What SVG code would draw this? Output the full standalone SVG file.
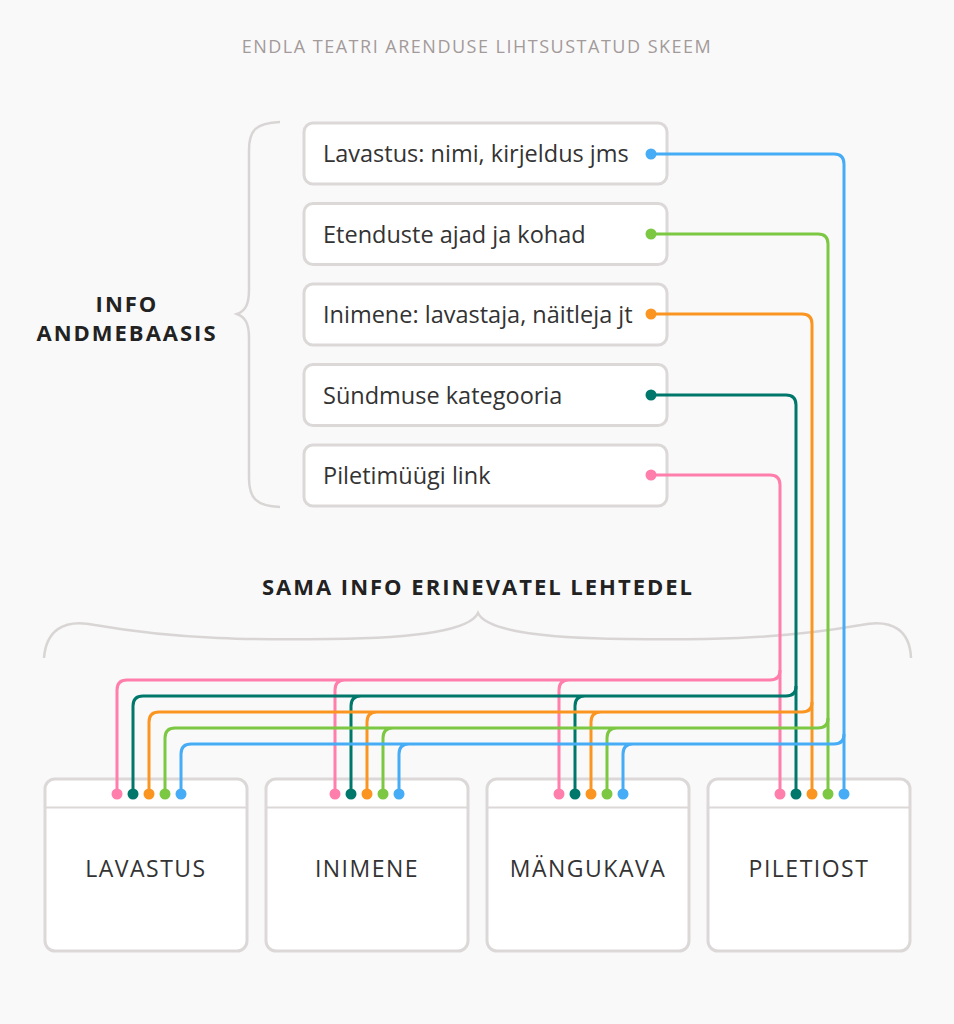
<svg xmlns="http://www.w3.org/2000/svg" width="954" height="1024" viewBox="0 0 954 1024">
<style>
.bg{fill:#f9f9f9}
.box{fill:#fff;stroke:#dcd8d8;stroke-width:3}
.sep{stroke:#dcd8d8;stroke-width:2}
.brace{fill:none;stroke:#d9d5d5;stroke-width:2.5}
.t{font-family:"Open Sans","Noto Sans",sans-serif}
.title{font-size:18px;fill:#a39a9a;letter-spacing:1.5px}
.head{font-size:22px;font-weight:700;fill:#222;letter-spacing:2px}
.item{font-size:23.5px;fill:#333}
.page{font-size:23px;fill:#333;letter-spacing:1.5px}
.ln{fill:none;stroke-width:3}
.pink{stroke:#ff7eab}.pinkf{fill:#ff7eab}
.teal{stroke:#00776b}.tealf{fill:#00776b}
.orange{stroke:#fb9521}.orangef{fill:#fb9521}
.green{stroke:#7cc843}.greenf{fill:#7cc843}
.blue{stroke:#45acf5}.bluef{fill:#45acf5}
</style>
<rect class="bg" x="0" y="0" width="954" height="1024"/>
<text class="t title" x="477" y="53" text-anchor="middle">ENDLA TEATRI ARENDUSE LIHTSUSTATUD SKEEM</text>

<g id="braces">
<path class="brace" d="M280,122 C256,123 249,130 249,150 L249,290 C249,305 245,311 237,314 C245,317 249,323 249,338 L249,478 C249,498 256,506 280,507"/>
<path class="brace" d="M44,658 C46,632 62,618 95,625 C180,640 260,640 330,639 C420,638 470,630 478,613 C486,630 536,638 626,639 C696,640 776,640 861,625 C894,618 910,632 911,658"/>
</g>

<g id="label-info">
<text class="t head" x="127" y="312" text-anchor="middle">INFO</text>
<text class="t head" x="127" y="341" text-anchor="middle">ANDMEBAASIS</text>
</g>
<g id="label-sama">
<text class="t head" x="478" y="595" text-anchor="middle">SAMA INFO ERINEVATEL LEHTEDEL</text>
</g>

<g id="item-lavastus">
<rect class="box" x="304" y="123" width="363" height="61" rx="9"/>
<text class="t item" x="323" y="162">Lavastus: nimi, kirjeldus jms</text>
</g>
<g id="item-etendused">
<rect class="box" x="304" y="203.5" width="363" height="61" rx="9"/>
<text class="t item" x="323" y="242.5">Etenduste ajad ja kohad</text>
</g>
<g id="item-inimene">
<rect class="box" x="304" y="284" width="363" height="61" rx="9"/>
<text class="t item" x="323" y="323">Inimene: lavastaja, näitleja jt</text>
</g>
<g id="item-kategooria">
<rect class="box" x="304" y="364.5" width="363" height="61" rx="9"/>
<text class="t item" x="323" y="403.5">Sündmuse kategooria</text>
</g>
<g id="item-pilet">
<rect class="box" x="304" y="445" width="363" height="61" rx="9"/>
<text class="t item" x="323" y="484">Piletimüügi link</text>
</g>

<g id="page-lavastus">
<rect class="box" x="45" y="779" width="202" height="172" rx="10"/>
<line class="sep" x1="46" y1="807.5" x2="246" y2="807.5"/>
<text class="t page" x="146" y="877" text-anchor="middle">LAVASTUS</text>
</g>
<g id="page-inimene">
<rect class="box" x="266" y="779" width="202" height="172" rx="10"/>
<line class="sep" x1="267" y1="807.5" x2="467" y2="807.5"/>
<text class="t page" x="367" y="877" text-anchor="middle">INIMENE</text>
</g>
<g id="page-mangukava">
<rect class="box" x="487" y="779" width="202" height="172" rx="10"/>
<line class="sep" x1="488" y1="807.5" x2="688" y2="807.5"/>
<text class="t page" x="588" y="877" text-anchor="middle">MÄNGUKAVA</text>
</g>
<g id="page-piletiost">
<rect class="box" x="708" y="779" width="202" height="172" rx="10"/>
<line class="sep" x1="709" y1="807.5" x2="909" y2="807.5"/>
<text class="t page" x="809" y="877" text-anchor="middle">PILETIOST</text>
</g>

<g id="connectors">
<path class="ln pink" d="M651,475 H770 Q780,475 780,485 V794"/>
<path class="ln pink" d="M780,670 Q780,680 770,680 H127 Q117,680 117,690 V794 M345,680 Q335,680 335,690 V794 M569,680 Q559,680 559,690 V794"/>
<path class="ln teal" d="M651,395 H786 Q796,395 796,405 V794"/>
<path class="ln teal" d="M796,686 Q796,696 786,696 H143 Q133,696 133,706 V794 M361,696 Q351,696 351,706 V794 M585,696 Q575,696 575,706 V794"/>
<path class="ln orange" d="M651,314 H802 Q812,314 812,324 V794"/>
<path class="ln orange" d="M812,702 Q812,712 802,712 H159 Q149,712 149,722 V794 M377,712 Q367,712 367,722 V794 M601,712 Q591,712 591,722 V794"/>
<path class="ln green" d="M651,234 H818 Q828,234 828,244 V794"/>
<path class="ln green" d="M828,718 Q828,728 818,728 H175 Q165,728 165,738 V794 M393,728 Q383,728 383,738 V794 M617,728 Q607,728 607,738 V794"/>
<path class="ln blue" d="M651,154 H834 Q844,154 844,164 V794"/>
<path class="ln blue" d="M844,734 Q844,744 834,744 H191 Q181,744 181,754 V794 M409,744 Q399,744 399,754 V794 M633,744 Q623,744 623,754 V794"/>
<circle class="bluef" cx="651" cy="154" r="5.5"/>
<circle class="greenf" cx="651" cy="234" r="5.5"/>
<circle class="orangef" cx="651" cy="314" r="5.5"/>
<circle class="tealf" cx="651" cy="395" r="5.5"/>
<circle class="pinkf" cx="651" cy="475" r="5.5"/>
<g>
<circle class="pinkf" cx="117" cy="794" r="5.5"/><circle class="tealf" cx="133" cy="794" r="5.5"/><circle class="orangef" cx="149" cy="794" r="5.5"/><circle class="greenf" cx="165" cy="794" r="5.5"/><circle class="bluef" cx="181" cy="794" r="5.5"/>
<circle class="pinkf" cx="335" cy="794" r="5.5"/><circle class="tealf" cx="351" cy="794" r="5.5"/><circle class="orangef" cx="367" cy="794" r="5.5"/><circle class="greenf" cx="383" cy="794" r="5.5"/><circle class="bluef" cx="399" cy="794" r="5.5"/>
<circle class="pinkf" cx="559" cy="794" r="5.5"/><circle class="tealf" cx="575" cy="794" r="5.5"/><circle class="orangef" cx="591" cy="794" r="5.5"/><circle class="greenf" cx="607" cy="794" r="5.5"/><circle class="bluef" cx="623" cy="794" r="5.5"/>
<circle class="pinkf" cx="780" cy="794" r="5.5"/><circle class="tealf" cx="796" cy="794" r="5.5"/><circle class="orangef" cx="812" cy="794" r="5.5"/><circle class="greenf" cx="828" cy="794" r="5.5"/><circle class="bluef" cx="844" cy="794" r="5.5"/>
</g>
</g>
</svg>
